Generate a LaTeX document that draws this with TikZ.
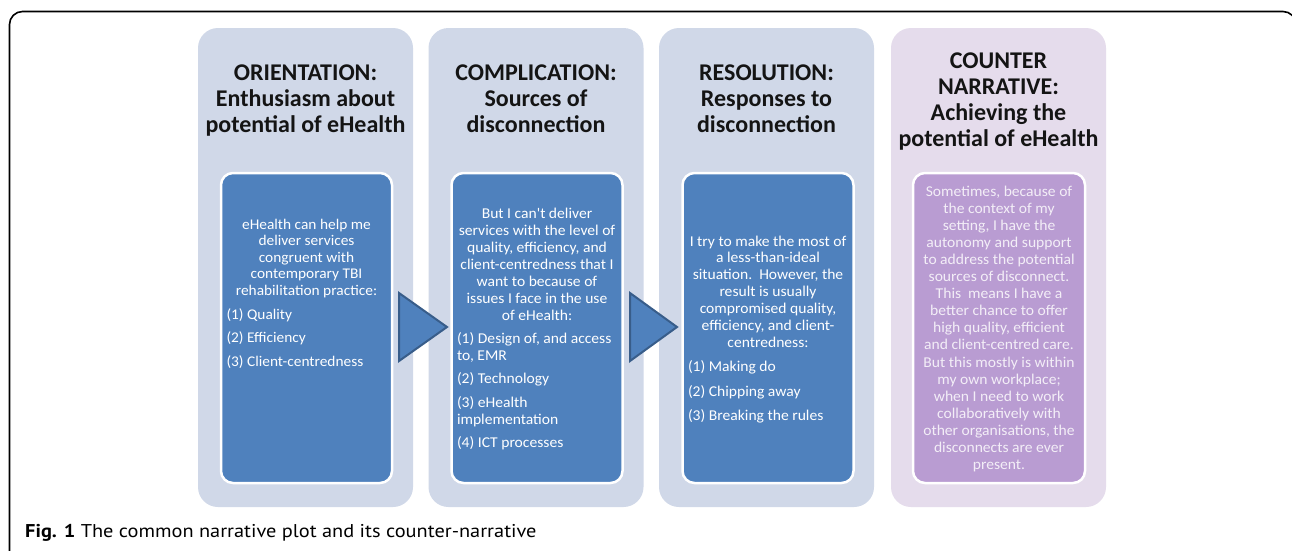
\documentclass[tikz,border=0pt]{standalone}
\usepackage{fontspec}
\setmainfont{Carlito}
\newfontfamily\bodyfont[FakeStretch=1.04]{Carlito}
\newfontfamily\capfont[FakeStretch=1.1]{PT Sans}
\definecolor{colblue}{HTML}{D0D8E8}
\definecolor{colpurple}{HTML}{E5DCEC}
\definecolor{innerblue}{HTML}{4F81BD}
\definecolor{innerpurple}{HTML}{B99CD2}
\definecolor{arrowline}{HTML}{385D8A}
\definecolor{purpletext}{HTML}{F3EEF7}
\definecolor{headtext}{HTML}{141414}
\tikzset{
  colbox/.style={draw=none, rounded corners=20pt, minimum width=215pt, minimum height=479pt, inner sep=0pt},
  innerbox/.style={draw=white, line width=2.5pt, rounded corners=12pt, minimum width=171pt, minimum height=310pt, inner sep=0pt},
  headtxt/.style={anchor=base, inner sep=0pt, text=headtext},
  bodytxt/.style={anchor=base, inner sep=0pt, text=white},
  flowarrow/.style={fill=innerblue, draw=arrowline, line width=2pt, line join=miter},
}
\newcommand{\headbox}[1]{\parbox[t]{260pt}{\centering\bfseries\fontsize{24}{26.3}\selectfont #1}}
\newcommand{\bodybox}[3]{\parbox[t]{174pt}{\bodyfont\fontsize{#1}{#2}\selectfont\setlength{\parskip}{6pt}\setlength{\parindent}{0pt}#3}}
\newcommand{\litem}[1]{\par{\raggedright\hspace*{7pt}#1\par}}
\begin{document}
\begin{tikzpicture}[x=1pt,y=-1pt]
\useasboundingbox (0,0) rectangle (1292,550);
\fill[white] (0,0) rectangle (1292,550);
\begin{scope}
\clip (0,0) rectangle (1292,550);
\draw[line width=1.6pt, rounded corners=13pt] (9.5,11.5) rectangle (1296,620);
\end{scope}

% columns
\node[colbox, fill=colblue] (c1) at (305.5,267.5) {};
\node[colbox, fill=colblue] (c2) at (536,267.5) {};
\node[colbox, fill=colblue] (c3) at (766.5,267.5) {};
\node[colbox, fill=colpurple] (c4) at (998.5,267.5) {};

% inner boxes
\node[innerbox, fill=innerblue] (i1) at (306.5,328) {};
\node[innerbox, fill=innerblue] (i2) at (537,328) {};
\node[innerbox, fill=innerblue] (i3) at (768,328) {};
\node[innerbox, fill=innerpurple, minimum width=172pt] (i4) at (999,328) {};

% headings
\node[headtxt] (h1) at (305.5,80) {\headbox{ORIENTATION:\\Enthusiasm about\\potential of eHealth}};
\node[headtxt] (h2) at (536,80) {\headbox{COMPLICATION:\\Sources of\\disconnection}};
\node[headtxt] (h3) at (766.5,80) {\headbox{RESOLUTION:\\Responses to\\disconnection}};
\node[headtxt] (h4) at (998.5,68) {\headbox{COUNTER\\NARRATIVE:\\Achieving the\\potential of eHealth}};

% body texts
\node[bodytxt] (t1) at (306.5,229.5) {\bodybox{14.8}{16.4}{%
{\centering eHealth can help me\\deliver services\\congruent with\\contemporary TBI\\rehabilitation practice:\par}
\setlength{\parskip}{7.5pt}%
\litem{(1) Quality}
\litem{(2) Efficiency}
\litem{(3) Client-centredness}}};

\node[bodytxt] (t2) at (537,218) {\bodybox{15}{17.1}{%
{\centering But I can't deliver\\services with the level of\\quality, efficiency, and\\client-centredness that I\\want to because of\\issues I face in the use\\of eHealth:\par}
\litem{(1) Design of, and access\\\hspace*{7pt}to, EMR}
\litem{(2) Technology}
\litem{(3) eHealth\\\hspace*{7pt}implementation}
\litem{(4) ICT processes}}};

\node[bodytxt] (t3) at (768,246) {\bodybox{15}{16.9}{%
{\centering I try to make the most of\\a less-than-ideal\\situation.\ \ However, the\\result is usually\\compromised quality,\\efficiency, and client-\\centredness:\par}
\setlength{\parskip}{7.5pt}%
\litem{(1) Making do}
\litem{(2) Chipping away}
\litem{(3) Breaking the rules}}};

\node[bodytxt, text=purpletext] (t4) at (999,196) {\bodybox{15}{17.1}{%
{\centering Sometimes, because of\\the context of my\\setting, I have the\\autonomy and support\\to address the potential\\sources of disconnect.\\This\ \ means I have a\\better chance to offer\\high quality, efficient\\and client-centred care.\\But this mostly is within\\my own workplace;\\when I need to work\\collaboratively with\\other organisations, the\\disconnects are ever\\present.\par}}};

% arrows
\draw[flowarrow] (399,293) -- (447,327) -- (399,361) -- cycle;
\draw[flowarrow] (630,293) -- (677,327) -- (630,361) -- cycle;

% caption
\node[anchor=base west, inner sep=0pt] (cap) at (25,537) {\capfont\fontsize{18.5}{21}\selectfont\textbf{Fig. 1} The common narrative plot and its counter-narrative};
\end{tikzpicture}
\end{document}
